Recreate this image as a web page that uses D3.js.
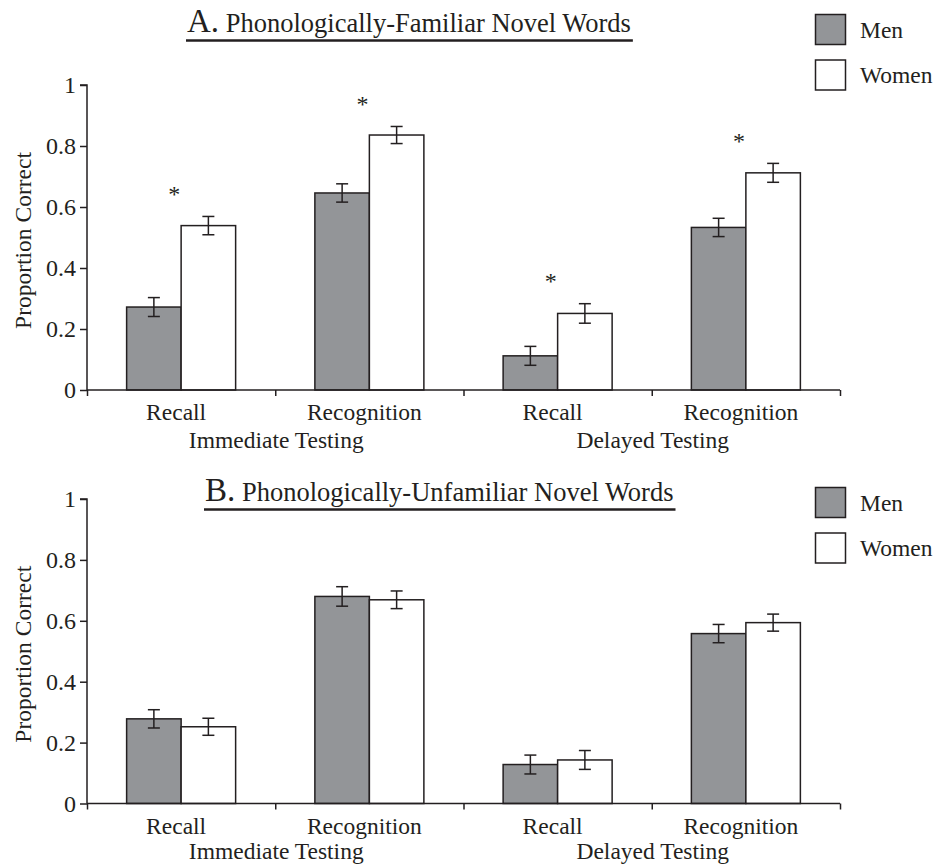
<!DOCTYPE html>
<html><head><meta charset="utf-8">
<script src="https://cdn.jsdelivr.net/npm/d3@7"></script>
<style>body{margin:0;background:#fff;}</style></head>
<body><svg id="c" width="937" height="864" font-family="Liberation Serif"></svg>
<script>
const conditions = ["Imm-Recall","Imm-Recognition","Del-Recall","Del-Recognition"];
const conditionLabels = ["Recall","Recognition","Recall","Recognition"];
const testingLabels = ["Immediate Testing","Delayed Testing"];
const series = ["Men","Women"];
const yTicks = [0,0.2,0.4,0.6,0.8,1];

const familiarMen = [0.272,0.646,0.112,0.533];
const familiarWomen = [0.539,0.836,0.251,0.712];
const familiarMenErr = [0.031,0.030,0.031,0.030];
const familiarWomenErr = [0.030,0.028,0.032,0.031];
const familiarSig = [true,true,true,true];

const unfamiliarMen = [0.278,0.680,0.128,0.558];
const unfamiliarWomen = [0.252,0.669,0.143,0.594];
const unfamiliarMenErr = [0.030,0.032,0.031,0.030];
const unfamiliarWomenErr = [0.028,0.029,0.031,0.028];
const unfamiliarSig = [false,false,false,false];

const FONT = "Liberation Serif";
const svg = d3.select("#c");
const colors = {Men:"#939598", Women:"#ffffff"};
const ink = "#231f20";

function txt(g){ return g.append("text").attr("font-family",FONT).attr("fill",ink); }

function panel(cfg){
  const g = svg.append("g");
  const y = d3.scaleLinear().domain([0,1]).range([cfg.y0, cfg.y1]);
  const x = d3.scaleBand().domain(conditions).range([87,840]).padding(0);
  const xs = d3.scaleBand().domain(series).range([0,x.bandwidth()]).paddingInner(0).paddingOuter(0.727);

  const data = [];
  conditions.forEach((c,i)=>{
    data.push({c, s:"Men", v:cfg.men[i], e:cfg.menErr[i]});
    data.push({c, s:"Women", v:cfg.women[i], e:cfg.womenErr[i]});
  });
  g.selectAll("rect.bar").data(data).join("rect")
    .attr("x", d=>x(d.c)+xs(d.s)).attr("width", xs.bandwidth())
    .attr("y", d=>y(d.v)).attr("height", d=>y(0)-y(d.v))
    .attr("fill", d=>colors[d.s]).attr("stroke", ink).attr("stroke-width",1.5);

  const eb = g.selectAll("g.eb").data(data).join("g");
  eb.each(function(d){
    const cx = x(d.c)+xs(d.s)+xs.bandwidth()/2;
    const s = d3.select(this);
    s.append("line").attr("x1",cx).attr("x2",cx).attr("y1",y(d.v+d.e)).attr("y2",y(d.v-d.e));
    s.append("line").attr("x1",cx-6).attr("x2",cx+6).attr("y1",y(d.v+d.e)).attr("y2",y(d.v+d.e));
    s.append("line").attr("x1",cx-6).attr("x2",cx+6).attr("y1",y(d.v-d.e)).attr("y2",y(d.v-d.e));
  });
  eb.selectAll("line").attr("stroke",ink).attr("stroke-width",1.5);

  conditions.forEach((c,i)=>{
    if(!cfg.sig[i]) return;
    const top = Math.max(cfg.men[i]+cfg.menErr[i], cfg.women[i]+cfg.womenErr[i]);
    txt(g).attr("x", x(c)+x.bandwidth()/2-7).attr("y", y(top+0.09)+13)
      .attr("text-anchor","middle").attr("font-size",24).text("*");
  });

  const ya = g.append("g").attr("transform","translate(87,0)")
    .call(d3.axisLeft(y).tickValues(yTicks).tickFormat(d=>d===0||d===1?String(d):d3.format(".1f")(d)).tickSize(7).tickPadding(4));
  ya.attr("font-family",FONT);
  ya.select(".domain").attr("stroke",ink).attr("stroke-width",1.5).attr("d",`M-7,${y(1)}H0V${y(0)}`);
  ya.selectAll(".tick line").attr("stroke",ink).attr("stroke-width",1.5);
  ya.selectAll(".tick text").attr("font-size",24).attr("font-family",FONT).attr("fill",ink);

  const tickPos = d3.range(conditions.length+1).map(i=>87 + i*x.step());
  const xa = g.append("g").attr("transform",`translate(0,${y(0)})`)
    .call(d3.axisBottom(d3.scaleLinear().domain([87,840]).range([87,840])).tickValues(tickPos).tickSize(6).tickFormat(""));
  xa.select(".domain").attr("stroke",ink).attr("stroke-width",1.5).attr("d","M87,0H840");
  xa.selectAll(".tick line").attr("stroke",ink).attr("stroke-width",1.5);

  conditions.forEach((c,i)=>{
    txt(g).attr("x", x(c)+x.bandwidth()/2-5).attr("y", y(0)+30)
      .attr("text-anchor","middle").attr("font-size",23.5).text(conditionLabels[i]);
  });
  testingLabels.forEach((t,i)=>{
    txt(g).attr("x", x(conditions[i*2+1])+1).attr("y", y(0)+cfg.groupDy)
      .attr("text-anchor","middle").attr("font-size",23.5).text(t);
  });

  txt(g).attr("transform",`translate(31,${(y(0)+y(1))/2+3}) rotate(-90)`)
    .attr("text-anchor","middle").attr("font-size",23.5).text("Proportion Correct");

  const t = txt(g).attr("x", cfg.titleX).attr("y", cfg.titleY);
  t.append("tspan").attr("font-size",33).text(cfg.letter);
  t.append("tspan").attr("font-size",26.5).text(" " + cfg.title);
  const w = t.node().getComputedTextLength();
  g.append("line").attr("x1",cfg.titleX-1).attr("x2",cfg.titleX+w+2)
    .attr("y1",cfg.titleY+8.5).attr("y2",cfg.titleY+8.5).attr("stroke",ink).attr("stroke-width",2.5);

  series.forEach((s,i)=>{
    const ly = cfg.legendY + i*45.5;
    g.append("rect").attr("x",815.5).attr("y",ly).attr("width",30).attr("height",30)
      .attr("fill",colors[s]).attr("stroke",ink).attr("stroke-width",1.5);
    txt(g).attr("x",860).attr("y",ly+23).attr("font-size",23.5).text(s);
  });
}

panel({y0:390, y1:85, men:familiarMen, women:familiarWomen, menErr:familiarMenErr, womenErr:familiarWomenErr,
  sig:familiarSig, letter:"A.", title:"Phonologically-Familiar Novel Words", titleX:187, titleY:32, legendY:14.5, groupDy:58});
panel({y0:803.5, y1:499, men:unfamiliarMen, women:unfamiliarWomen, menErr:unfamiliarMenErr, womenErr:unfamiliarWomenErr,
  sig:unfamiliarSig, letter:"B.", title:"Phonologically-Unfamiliar Novel Words", titleX:205, titleY:501, legendY:487.5, groupDy:55});
</script></body></html>
